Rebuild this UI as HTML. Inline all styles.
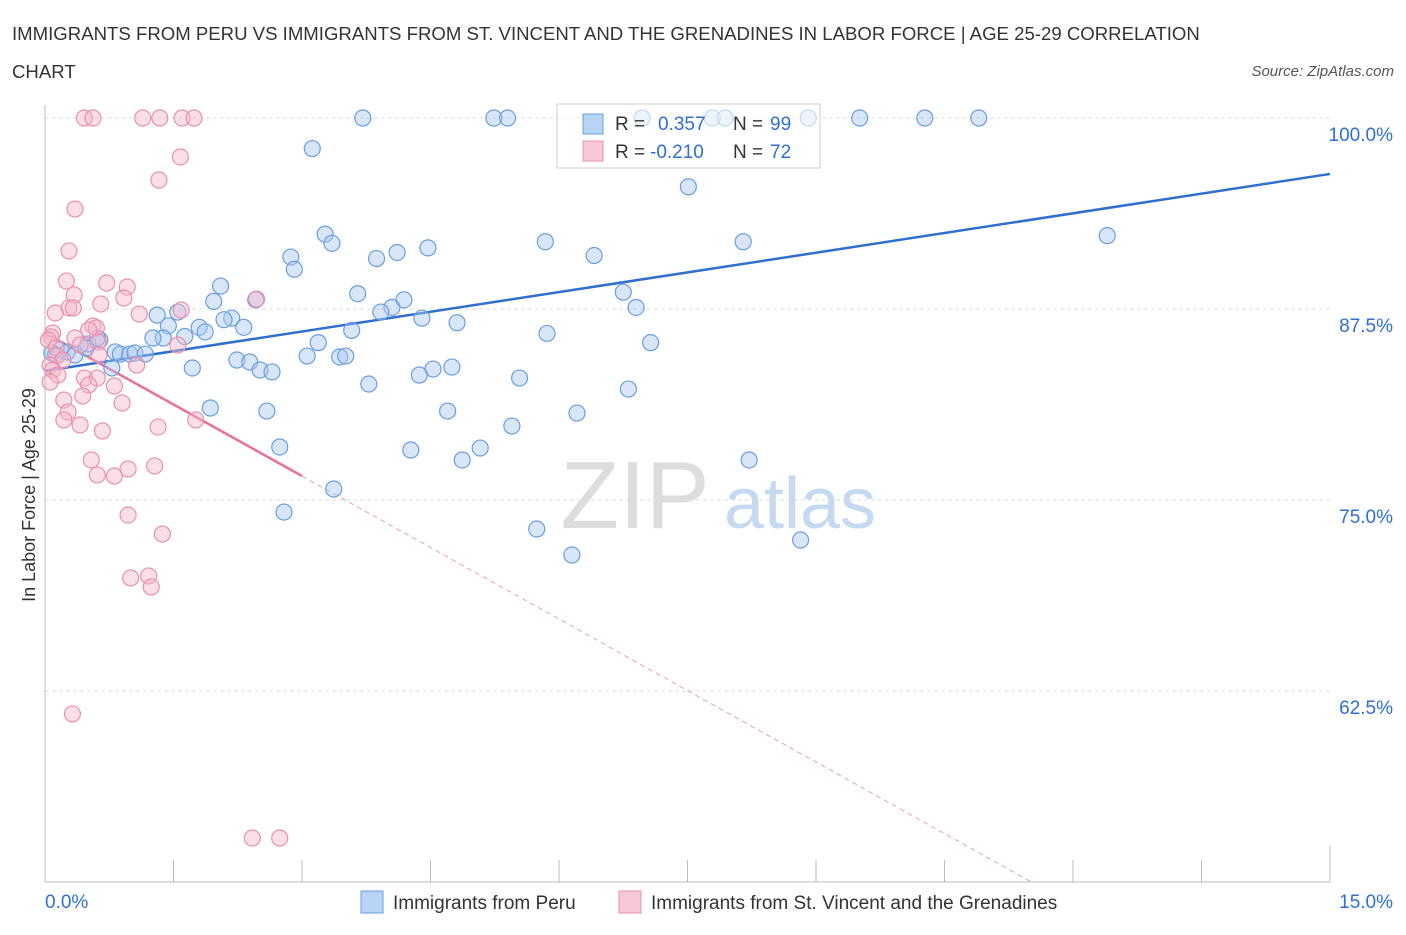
<!DOCTYPE html>
<html><head><meta charset="utf-8"><style>
body{margin:0;background:#fff;font-family:"Liberation Sans",sans-serif;}
svg text{font-family:"Liberation Sans",sans-serif;}
</style></head><body>
<svg id="chart" width="1406" height="930">
<text x="12" y="40" font-size="18.6" fill="#333">IMMIGRANTS FROM PERU VS IMMIGRANTS FROM ST. VINCENT AND THE GRENADINES IN LABOR FORCE | AGE 25-29 CORRELATION</text>
<text x="12" y="78" font-size="18.6" fill="#333">CHART</text>
<text x="1394" y="76" font-size="15" fill="#555" font-style="italic" text-anchor="end">Source: ZipAtlas.com</text>
<text x="35" y="495" font-size="18" fill="#333" text-anchor="middle" transform="rotate(-90 35 495)">In Labor Force | Age 25-29</text>
<g><text x="635" y="528" font-size="96" fill="#ddd" font-family="Liberation Serif" text-anchor="middle">ZIP</text><text x="800" y="528" font-size="72" fill="#c5d9f0" text-anchor="middle">atlas</text></g>
<g id="grid"></g><g id="axes"></g><g id="trend"></g><g id="pts"></g>
<g>
<rect x="557" y="104" width="263" height="64" fill="#fff" fill-opacity="0.6" stroke="#ccc"/>
<rect x="583" y="114" width="20" height="20" fill="#b8d4f5" stroke="#6a9ee0"/>
<text x="615" y="130" font-size="19" fill="#333">R =</text>
<text x="658" y="130" font-size="19" fill="#2f6fd0">0.357</text>
<text x="733" y="130" font-size="19" fill="#333">N =</text>
<text x="770" y="130" font-size="19" fill="#2f6fd0">99</text>
<rect x="583" y="141" width="20" height="20" fill="#f8c8d8" stroke="#e890ae"/>
<text x="615" y="158" font-size="19" fill="#333">R =</text>
<text x="650" y="158" font-size="19" fill="#2f6fd0">-0.210</text>
<text x="733" y="158" font-size="19" fill="#333">N =</text>
<text x="770" y="158" font-size="19" fill="#2f6fd0">72</text>
</g>
<g>
<rect x="361" y="891" width="22" height="22" fill="#b8d4f5" stroke="#6a9ee0"/>
<text x="393" y="909" font-size="19" fill="#333">Immigrants from Peru</text>
<rect x="619" y="891" width="22" height="22" fill="#f8c8d8" stroke="#e890ae"/>
<text x="651" y="909" font-size="19" fill="#333">Immigrants from St. Vincent and the Grenadines</text>
</g>
</svg>
<script>
const xTicks=[0,1.5,3,4.5,6,7.5,9,10.5,12,13.5,15];
const yTicks=[62.5,75,87.5,100];
const yTickLabels=["62.5%","75.0%","87.5%","100.0%"];
const peruX=[3.71,5.24,5.40,6.97,7.79,7.94,8.91,9.51,10.27,10.90,3.12,7.51,12.40,3.27,3.35,5.84,8.15,4.47,4.11,3.87,2.87,2.91,6.41,2.05,1.97,2.46,3.65,4.19,4.05,3.92,4.40,6.75,6.90,1.31,1.55,2.18,2.09,2.32,1.44,1.80,1.87,1.63,4.81,3.58,5.86,1.38,1.26,3.19,7.07,.64,.50,.18,.26,.35,.12,.08,.82,.88,.99,1.05,1.17,.78,.48,.61,3.06,3.44,3.51,2.24,2.39,2.51,2.65,1.72,4.75,4.53,4.37,3.78,5.54,6.81,1.93,2.59,4.70,6.21,5.45,2.74,4.27,5.08,4.87,8.22,3.37,2.79,5.74,6.15,8.82];
const peruY=[100,100,100,100,100,100,100,100,100,100,98.0,95.5,92.3,92.4,91.8,91.9,91.9,91.5,91.2,90.8,90.9,90.1,91.0,89.0,88.0,88.1,88.5,88.1,87.6,87.3,86.9,88.6,87.6,87.1,87.3,86.9,86.8,86.3,86.4,86.3,86.0,85.7,86.6,86.1,85.9,85.6,85.6,85.3,85.3,85.47,85.21,84.82,84.69,84.49,84.49,84.62,84.69,84.55,84.55,84.62,84.55,83.64,84.95,85.60,84.42,84.36,84.42,84.16,84.03,83.51,83.38,83.64,83.70,83.57,83.18,82.59,82.98,82.26,81.02,80.82,80.82,80.69,79.84,78.47,78.27,78.40,77.62,77.62,75.72,74.21,73.10,71.40,72.38];
const svgX=[.46,.56,1.14,1.34,1.60,1.74,1.58,1.33,.35,.28,.25,.72,.96,.34,.92,2.47,.65,.28,.33,1.10,1.59,.12,.56,.60,.51,.09,.07,.04,.13,.14,.21,.06,.09,.15,.06,.35,.62,.41,.63,1.55,1.07,.46,.61,.51,.81,.44,.22,.27,.90,.22,.41,.67,1.32,1.76,.54,.61,.81,.97,1.28,.97,1.37,1.00,1.21,1.24,.32,2.42,2.74];
const svgY=[100,100,100,100,100,100,97.45,95.94,94.04,91.30,89.33,89.20,88.94,88.42,88.22,88.15,87.83,87.57,87.57,87.17,87.43,87.24,86.39,86.26,86.13,85.93,85.67,85.47,84.95,84.42,84.16,83.83,83.51,83.18,82.72,85.60,85.34,85.14,84.49,85.14,83.83,82.98,82.98,82.53,82.46,81.81,81.54,80.76,81.35,80.24,79.91,79.52,79.78,80.24,77.62,76.64,76.57,77.03,77.23,74.02,72.77,69.90,70.03,69.31,61.00,52.88,52.88];
const peruTrend=[83.45,96.34];
const svgTrend=[85.93,-3.12];
const NS='http://www.w3.org/2000/svg';
const X=v=>45+v*(1285/15), Y=v=>118+(100-v)*15.28;
function mk(t,a,p){const e=document.createElementNS(NS,t);for(const k in a)e.setAttribute(k,a[k]);p.appendChild(e);return e;}
const grid=document.getElementById('grid'),axes=document.getElementById('axes'),trend=document.getElementById('trend'),pts=document.getElementById('pts');
yTicks.forEach((t,i)=>{
 const l=mk('line',{x1:45,x2:1330,y1:Y(t),y2:Y(t),stroke:'#ddd','stroke-dasharray':'4 3'},grid);
 
 
 const tx=mk('text',{x:1393,y:Y(t)+23,'font-size':19,fill:'#2f6fd0','text-anchor':'end'},axes);tx.textContent=yTickLabels[i];
 
 
});
const ax=mk('line',{x1:45,x2:1330,y1:882,y2:882,stroke:'#bbb'},axes);


const ay=mk('line',{x1:45,x2:45,y1:105,y2:882,stroke:'#bbb'},axes);


xTicks.forEach(t=>{const l=mk('line',{x1:X(t),x2:X(t),y1:882,y2:(t===0||t===15)?846:860,stroke:'#bbb'},axes);
 
 });
const t0=mk('text',{x:45,y:908,'font-size':19,fill:'#2f6fd0'},axes);t0.textContent='0.0%';


const t1=mk('text',{x:1393,y:908,'font-size':19,fill:'#2f6fd0','text-anchor':'end'},axes);t1.textContent='15.0%';


function dot(x,y,f,s,n){const c=mk('circle',{cx:X(x),cy:Y(y),r:8,fill:f,'fill-opacity':0.45,stroke:s,'stroke-width':1.2},pts);
 
 }
peruX.forEach((x,i)=>dot(x,peruY[i],'#a8c8f0','#6a9ee0','peru-point'));
svgX.forEach((x,i)=>dot(x,svgY[i],'#f4b8cc','#e890ae','stvincent-point'));
const bl=mk('line',{x1:X(0),y1:Y(peruTrend[0]),x2:X(15),y2:Y(peruTrend[1]),stroke:'#2f6fd0','stroke-width':2.5},trend);


const xe=(50-svgTrend[0])/svgTrend[1];
const ps=mk('line',{x1:X(0),y1:Y(svgTrend[0]),x2:X(3),y2:Y(svgTrend[0]+3*svgTrend[1]),stroke:'#e8709a','stroke-width':2.5},trend);


const pd=mk('line',{x1:X(3),y1:Y(svgTrend[0]+3*svgTrend[1]),x2:X(xe),y2:Y(50),stroke:'#e8a0b8','stroke-width':1,'stroke-dasharray':'5 4'},trend);


</script>
</body></html>
